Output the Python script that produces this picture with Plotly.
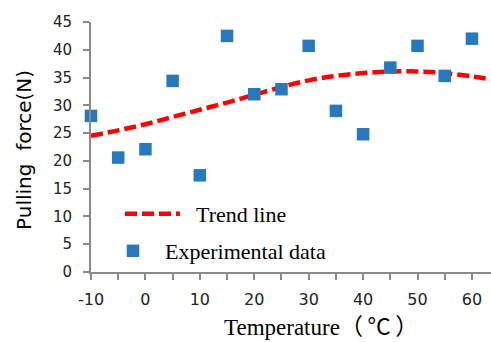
import plotly.graph_objects as go

# Experimental data
temp_exp = [-10, -5, 0, 5, 10, 15, 20, 25, 30, 35, 40, 45, 50, 55, 60]
force_exp = [28.1, 20.6, 22.1, 34.4, 17.4, 42.5, 32.0, 32.9, 40.7, 29.0, 24.8, 36.8, 40.7, 35.3, 42.0]

# Trend line
temp_trend = [-10, -5, 0, 5, 10, 15, 20, 25, 30, 35, 40, 45, 50, 55, 60, 63.5]
force_trend = [24.5, 25.5, 26.6, 27.9, 29.2, 30.5, 31.9, 33.3, 34.5, 35.3, 35.8, 36.1, 36.1, 35.8, 35.2, 34.7]

x_ticks = [-10, 0, 10, 20, 30, 40, 50, 60]
x_ticktext = ["-10", "0", "10", "20", "30", "40", "50", "60"]
y_ticks = [0, 5, 10, 15, 20, 25, 30, 35, 40, 45]

axis_col = "#8a8a8a"
tick_font = dict(family="DejaVu Sans", size=15, color="#222222")

fig = go.Figure()
fig.add_trace(go.Scatter(
    x=temp_trend, y=force_trend, mode="lines", name="\u00a0\u00a0Trend line",
    line=dict(color="#ff0000", width=4.5, dash="12px,5px", shape="spline"),
    legend="legend", cliponaxis=False,
))
fig.add_trace(go.Scatter(
    x=temp_exp, y=force_exp, mode="markers", name="\u00a0\u00a0Experimental data",
    marker=dict(symbol="square", size=12.5, color="#2878BD"),
    legend="legend2", cliponaxis=False,
))

fig.update_layout(
    width=491, height=342,
    margin=dict(l=91, r=0, t=22, b=70),
    paper_bgcolor="white", plot_bgcolor="white",
    showlegend=True,
    legend=dict(x=(120 - 91) / 400, y=(272 - 214) / 250, xanchor="left", yanchor="middle",
                bgcolor="rgba(0,0,0,0)", itemwidth=55,
                font=dict(family="Liberation Serif", size=22, color="black")),
    legend2=dict(x=(112 - 91) / 400, y=(272 - 251) / 250, xanchor="left", yanchor="middle",
                 bgcolor="rgba(0,0,0,0)", itemwidth=32,
                 font=dict(family="Liberation Serif", size=22, color="black")),
    xaxis=dict(range=[-10, 63.5], tickmode="array", tickvals=x_ticks, ticktext=x_ticktext,
               showline=True, linecolor=axis_col, linewidth=2,
               ticks="outside", ticklen=6, tickwidth=2, tickcolor=axis_col,
               minor=dict(dtick=5, tick0=-10, ticks="outside", ticklen=6, tickwidth=2, tickcolor=axis_col),
               showgrid=False, zeroline=False, tickfont=dict(family="DejaVu Sans", size=16, color="#222222"),
               ticklabelstandoff=6),
    yaxis=dict(range=[0, 45], tickmode="array", tickvals=y_ticks,
               showline=True, linecolor=axis_col, linewidth=2,
               ticks="outside", ticklen=6, tickwidth=2, tickcolor=axis_col,
               showgrid=False, zeroline=False, tickfont=tick_font, ticklabelstandoff=8),
    annotations=[
        dict(text="Temperature<span style='font-family:Noto Sans CJK SC'>（\u2009°C\u2009）</span>",
             xref="paper", yref="paper",
             x=(222 - 91) / 400, y=(272 - 325) / 250, xanchor="left", yanchor="middle",
             showarrow=False, font=dict(family="Liberation Serif", size=23, color="black")),
        dict(text="Pulling\u00a0 force(N)", xref="paper", yref="paper",
             x=(24 - 91) / 400, y=(272 - 150) / 250, xanchor="center", yanchor="middle",
             textangle=-90, showarrow=False,
             font=dict(family="DejaVu Sans", size=20, color="black")),
    ],
)

fig.write_html("out.html", config={"displayModeBar": False},
               post_script="document.body.style.margin='0';document.body.style.padding='0';")
